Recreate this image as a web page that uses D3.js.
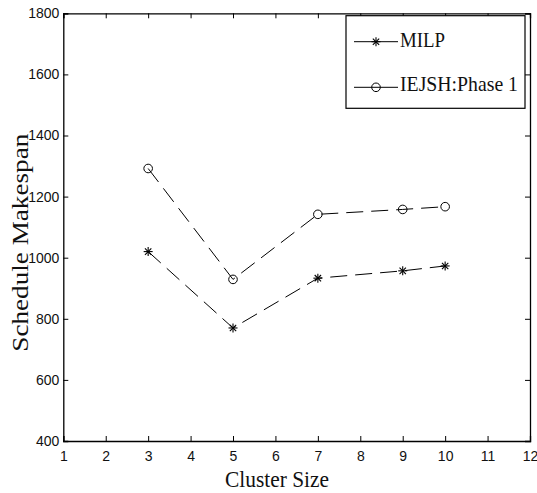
<!DOCTYPE html>
<html>
<head>
<meta charset="utf-8">
<script src="https://cdn.jsdelivr.net/npm/d3@7/dist/d3.min.js"></script>
<style>
  html, body { margin: 0; padding: 0; background: #fff; }
  svg { display: block; }
</style>
</head>
<body>
<svg id="chart" width="537" height="493"></svg>
<script>
// Cluster sizes tested and resulting schedule makespans
const clusterSizes = [3, 5, 7, 9, 10];
const milpMakespan = [1020, 770, 933, 957, 973];
const iejshMakespan = [1292, 929, 1142, 1158, 1167];
const seriesNames = ["MILP", "IEJSH:Phase 1"];
const xTicks = [1, 2, 3, 4, 5, 6, 7, 8, 9, 10, 11, 12];
const yTicks = [400, 600, 800, 1000, 1200, 1400, 1600, 1800];

const svg = d3.select("#chart");
const plot = { left: 63.3, right: 530, top: 13.3, bottom: 441 };

const x = d3.scaleLinear().domain([1, 12]).range([plot.left, plot.right]);
const y = d3.scaleLinear().domain([400, 1800]).range([plot.bottom, plot.top]);

const tickFont = "'Liberation Sans', Arial, sans-serif";
const serif = "'Liberation Serif', 'Times New Roman', serif";

// Box with inward ticks on every side
const gBottom = svg.append("g").attr("transform", `translate(0,${plot.bottom})`)
  .call(d3.axisBottom(x).tickValues(xTicks).tickFormat(d3.format("d")).tickSize(-5).tickPadding(10.5));
const gTop = svg.append("g").attr("transform", `translate(0,${plot.top})`)
  .call(d3.axisTop(x).tickValues(xTicks).tickFormat("").tickSize(-5));
const gLeft = svg.append("g").attr("transform", `translate(${plot.left},0)`)
  .call(d3.axisLeft(y).tickValues(yTicks).tickFormat(d3.format("d")).tickSize(-5).tickPadding(4));
const gRight = svg.append("g").attr("transform", `translate(${plot.right},0)`)
  .call(d3.axisRight(y).tickValues(yTicks).tickFormat("").tickSize(-5));

[gBottom, gTop, gLeft, gRight].forEach(g => {
  g.selectAll(".domain").attr("stroke", "#000").attr("stroke-width", 1.3);
  g.selectAll(".tick line").attr("stroke", "#000").attr("stroke-width", 1);
  g.selectAll("text").attr("font-family", tickFont).attr("font-size", 14).attr("fill", "#111");
});

// Series lines (dashed) with markers
const line = d3.line().x(d => x(d[0])).y(d => y(d[1]));
const milpPts = clusterSizes.map((c, i) => [c, milpMakespan[i]]);
const iejshPts = clusterSizes.map((c, i) => [c, iejshMakespan[i]]);

[milpPts, iejshPts].forEach(pts => {
  svg.append("path").datum(pts)
    .attr("d", line)
    .attr("fill", "none")
    .attr("stroke", "#000")
    .attr("stroke-width", 1)
    .attr("stroke-dasharray", "17,8");
});

function drawStar(g, cx, cy, r) {
  const a = r * Math.SQRT1_2;
  const segs = [[-r, 0, r, 0], [0, -r, 0, r], [-a, -a, a, a], [-a, a, a, -a]];
  g.append("g").selectAll("line").data(segs).join("line")
    .attr("x1", d => cx + d[0]).attr("y1", d => cy + d[1])
    .attr("x2", d => cx + d[2]).attr("y2", d => cy + d[3])
    .attr("stroke", "#000").attr("stroke-width", 1.1);
}
function drawCircle(g, cx, cy, r) {
  g.append("circle").attr("cx", cx).attr("cy", cy).attr("r", r)
    .attr("fill", "none").attr("stroke", "#000").attr("stroke-width", 1);
}

const markers = svg.append("g");
milpPts.forEach(p => drawStar(markers, x(p[0]), y(p[1]), 4.5));
iejshPts.forEach(p => drawCircle(markers, x(p[0]), y(p[1]), 4.3));

// Legend
const legend = svg.append("g");
legend.append("rect")
  .attr("x", 346).attr("y", 15.7).attr("width", 179).attr("height", 92.6)
  .attr("fill", "#fff").attr("stroke", "#000").attr("stroke-width", 1.2);
const rows = [
  { name: seriesNames[0], ly: 41.7, ty: 47.3, len: 45, mark: "star" },
  { name: seriesNames[1], ly: 87.3, ty: 91, len: 118, mark: "circle" }
];
rows.forEach(r => {
  legend.append("line").attr("x1", 354).attr("x2", 398)
    .attr("y1", r.ly).attr("y2", r.ly).attr("stroke", "#000").attr("stroke-width", 1);
  if (r.mark === "star") drawStar(legend, 376, r.ly, 4.5);
  else drawCircle(legend, 376, r.ly, 4.3);
  legend.append("text").attr("x", 400).attr("y", r.ty)
    .attr("font-family", serif).attr("font-size", 21)
    .attr("textLength", r.len).attr("lengthAdjust", "spacingAndGlyphs")
    .attr("fill", "#111").text(r.name);
});

// Axis titles
svg.append("text")
  .attr("x", 225).attr("y", 486.7)
  .attr("font-family", serif).attr("font-size", 24)
  .attr("textLength", 104).attr("lengthAdjust", "spacingAndGlyphs")
  .attr("fill", "#111").text("Cluster Size");

svg.append("text")
  .attr("transform", "translate(27.7,351.7) rotate(-90)")
  .attr("font-family", serif).attr("font-size", 24)
  .attr("textLength", 218).attr("lengthAdjust", "spacingAndGlyphs")
  .attr("fill", "#111").text("Schedule Makespan");
</script>
</body>
</html>
